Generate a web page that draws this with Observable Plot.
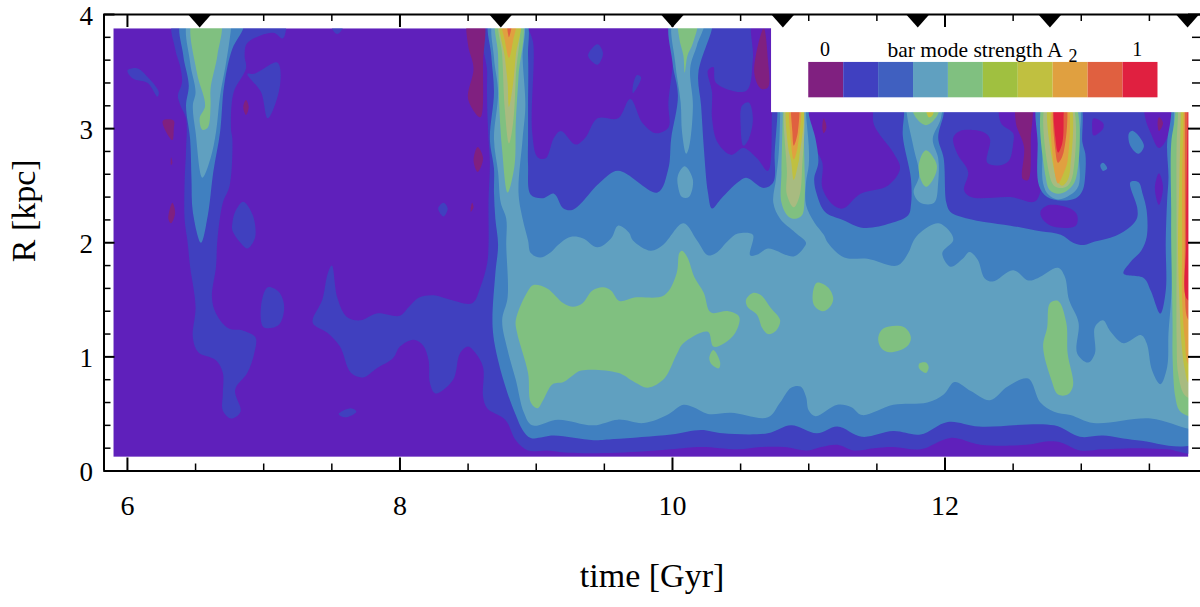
<!DOCTYPE html>
<html>
<head>
<meta charset="utf-8">
<style>html,body{margin:0;padding:0;background:#fff}svg{display:block}</style>
<script src="https://cdn.jsdelivr.net/npm/d3@7"></script>
<script src="https://cdn.jsdelivr.net/npm/@observablehq/plot@0.6"></script>
</head>
<body>
<div id="chart"></div>
<script>
// Contour regions of bar mode strength as [time Gyr, R kpc] outlines.
const blue1Regions = [
 [[8.65,3.95],[8.64,3.49],[8.64,3.20],[8.65,2.91],[8.66,2.70],[8.65,2.37],[8.65,1.98],[8.64,1.82],[8.59,1.61],[8.53,1.47],[8.37,1.50],[8.25,1.54],[8.14,1.52],[8.06,1.43],[8.00,1.36],[7.83,1.38],[7.71,1.32],[7.61,1.35],[7.54,1.52],[7.50,1.80],[7.47,1.73],[7.43,1.50],[7.36,1.30],[7.47,1.21],[7.56,1.09],[7.64,0.86],[7.73,0.82],[7.83,0.90],[7.95,0.99],[8.00,1.09],[8.10,1.15],[8.17,1.10],[8.21,0.97],[8.22,0.77],[8.26,0.68],[8.39,0.80],[8.44,1.03],[8.50,1.09],[8.55,1.04],[8.61,0.91],[8.61,0.65],[8.64,0.55],[8.75,0.47],[8.79,0.42],[8.85,0.27],[8.94,0.18],[9.08,0.18],[9.23,0.16],[9.60,0.16],[9.99,0.19],[10.21,0.21],[10.48,0.19],[10.65,0.21],[10.82,0.21],[10.99,0.18],[11.09,0.21],[11.21,0.23],[11.33,0.18],[11.48,0.20],[11.62,0.21],[11.82,0.19],[12.04,0.29],[12.26,0.23],[12.60,0.23],[12.76,0.26],[12.85,0.25],[12.99,0.18],[13.16,0.19],[13.44,0.20],[13.63,0.19],[13.88,0.18],[13.88,3.95]],
 [[6.34,3.95],[6.35,3.70],[6.39,3.53],[6.40,3.40],[6.37,3.29],[6.39,3.20],[6.43,3.09],[6.43,2.81],[6.42,2.55],[6.42,2.20],[6.44,2.02],[6.46,1.79],[6.50,1.44],[6.48,1.17],[6.52,1.04],[6.65,0.97],[6.70,0.86],[6.70,0.68],[6.70,0.53],[6.76,0.46],[6.83,0.52],[6.79,0.71],[6.88,0.86],[6.93,1.03],[6.94,1.17],[6.85,1.23],[6.74,1.25],[6.65,1.38],[6.62,1.52],[6.65,1.79],[6.66,2.02],[6.70,2.35],[6.75,2.50],[6.77,2.91],[6.76,3.00],[6.78,3.32],[6.87,3.53],[6.86,3.64],[6.88,3.75],[7.07,3.84],[7.14,3.79],[7.15,3.95]],
 [[6.88,3.48],[6.93,3.48],[7.10,3.58],[7.12,3.38],[7.03,3.09],[6.98,3.32]],
 [[6.85,2.36],[6.92,2.24],[6.94,2.07],[6.92,2.00],[6.88,1.95],[6.83,2.00],[6.77,2.11],[6.77,2.17],[6.79,2.27]],
 [[6.00,3.51],[6.07,3.53],[6.15,3.45],[6.23,3.32],[6.22,3.28],[6.15,3.40],[6.04,3.44]],
 [[7.50,3.95],[7.58,3.95],[7.58,3.88],[7.54,3.83],[7.50,3.88]],
 [[6.98,1.44],[7.03,1.61],[7.11,1.57],[7.15,1.44],[7.11,1.28],[7.00,1.26]],
 [[7.55,0.50],[7.64,0.55],[7.68,0.52],[7.60,0.47]],
 [[8.28,2.30],[8.32,2.35],[8.35,2.30],[8.32,2.23]]
];
const violetHoles = [
 [[8.95,3.95],[8.98,3.73],[8.97,2.97],[9.01,2.75],[9.07,2.74],[9.13,2.92],[9.18,2.98],[9.29,2.86],[9.36,2.92],[9.45,3.09],[9.60,3.09],[9.69,3.26],[9.78,3.05],[9.88,2.96],[9.97,3.01],[9.97,3.20],[9.95,3.95]],
 [[10.59,3.95],[10.59,3.61],[10.54,3.33],[10.32,3.40],[10.30,3.54],[10.26,3.51],[10.29,3.32],[10.29,3.09],[10.33,2.88],[10.43,2.77],[10.52,2.83],[10.62,2.74],[10.70,2.63],[10.73,3.14],[10.73,3.95]],
 [[11.03,3.25],[11.45,3.25],[11.48,3.03],[11.62,2.79],[11.67,2.65],[11.58,2.50],[11.38,2.43],[11.25,2.30],[11.18,2.33],[11.10,2.48],[11.10,2.70],[11.03,2.88]],
 [[12.06,2.92],[12.11,2.98],[12.28,2.97],[12.33,2.91],[12.31,2.70],[12.41,2.68],[12.47,2.72],[12.50,2.87],[12.50,2.96],[12.41,3.05],[12.41,3.22],[12.65,3.22],[12.67,2.37],[12.48,2.40],[12.19,2.40],[12.14,2.46],[12.17,2.62],[12.09,2.78]],
 [[13.09,3.09],[13.16,3.05],[13.16,3.00],[13.09,2.94],[13.08,3.01]],
 [[12.70,2.27],[12.76,2.33],[12.92,2.30],[12.97,2.24],[12.96,2.15],[12.80,2.14],[12.72,2.20]],
 [[13.47,3.25],[13.65,3.25],[13.63,2.92],[13.57,2.83],[13.51,2.96],[13.47,3.09]],
 [[13.57,2.61],[13.60,2.49],[13.57,2.33],[13.54,2.48]]
];
const blue1Islands = [
 [[9.38,3.64],[9.45,3.74],[9.49,3.66],[9.45,3.56]],
 [[9.71,3.38],[9.74,3.47],[9.77,3.45],[9.71,3.31]],
 [[10.51,3.20],[10.56,3.23],[10.59,3.09],[10.56,2.91],[10.52,2.85],[10.50,3.03]]
];
const blue2Regions = [
 [[8.66,3.95],[8.67,3.64],[8.69,3.32],[8.66,2.91],[8.69,2.65],[8.69,2.44],[8.70,2.21],[8.72,1.98],[8.70,1.73],[8.68,1.26],[8.72,0.97],[8.79,0.68],[8.85,0.49],[8.90,0.36],[8.96,0.29],[9.13,0.31],[9.42,0.27],[9.57,0.28],[9.99,0.32],[10.21,0.36],[10.37,0.33],[10.70,0.33],[10.87,0.40],[11.06,0.33],[11.21,0.39],[11.39,0.30],[11.62,0.35],[11.82,0.32],[12.02,0.43],[12.25,0.39],[12.80,0.40],[12.99,0.30],[13.16,0.31],[13.41,0.27],[13.88,0.28],[13.88,3.95],[13.66,3.95],[13.66,3.13],[13.63,2.87],[13.64,2.57],[13.63,2.37],[13.62,2.00],[13.62,1.58],[13.58,1.38],[13.51,1.58],[13.46,1.69],[13.31,1.73],[13.36,1.83],[13.44,1.93],[13.48,2.05],[13.48,2.28],[13.45,2.43],[13.42,2.53],[13.36,2.53],[13.41,2.31],[13.41,2.22],[13.36,2.14],[13.25,2.06],[13.10,2.01],[13.02,1.98],[12.94,2.00],[12.85,2.07],[12.70,2.10],[12.48,2.15],[12.30,2.18],[12.17,2.21],[12.04,2.27],[12.01,2.35],[11.99,2.74],[11.95,2.92],[11.99,3.13],[11.99,3.25],[11.70,3.25],[11.70,3.13],[11.69,2.94],[11.75,2.56],[11.75,2.33],[11.73,2.24],[11.60,2.17],[11.40,2.13],[11.25,2.20],[11.12,2.27],[11.06,2.42],[11.04,2.56],[11.07,2.70],[11.05,2.91],[11.00,3.13],[11.00,3.25],[10.77,3.25],[10.77,3.13],[10.75,2.79],[10.74,2.53],[10.67,2.48],[10.54,2.57],[10.48,2.53],[10.36,2.39],[10.29,2.30],[10.26,2.44],[10.23,2.83],[10.21,3.20],[10.19,3.49],[10.29,3.88],[10.29,3.95],[9.99,3.95],[10.00,3.58],[10.04,3.29],[9.99,2.91],[9.97,2.65],[9.89,2.44],[9.60,2.63],[9.47,2.53],[9.27,2.29],[9.20,2.30],[9.13,2.43],[9.05,2.39],[8.96,2.42],[8.94,2.68],[8.94,2.91],[8.94,3.20],[8.94,3.64],[8.92,3.95]],
 [[6.40,3.95],[6.41,3.64],[6.45,3.38],[6.43,3.20],[6.46,2.91],[6.47,2.56],[6.48,2.27],[6.54,2.00],[6.59,2.24],[6.63,2.62],[6.68,2.97],[6.71,3.38],[6.77,3.70],[6.85,3.88],[6.85,3.95]],
 [[12.69,3.25],[12.68,2.87],[12.69,2.50],[12.75,2.40],[12.85,2.37],[12.96,2.39],[13.01,2.46],[13.03,2.61],[13.03,2.78],[13.01,2.87],[12.98,3.25]],
 [[13.35,2.96],[13.38,2.98],[13.46,2.85],[13.42,2.78],[13.36,2.85]],
 [[13.14,2.68],[13.16,2.70],[13.19,2.65],[13.16,2.63]]
];
const tealRegions = [
 [[8.69,3.95],[8.69,3.62],[8.72,3.32],[8.69,2.91],[8.72,2.62],[8.74,2.35],[8.78,2.21],[8.78,1.98],[8.79,1.52],[8.75,1.32],[8.79,1.06],[8.85,0.80],[8.91,0.51],[8.97,0.40],[9.16,0.45],[9.42,0.40],[9.60,0.45],[9.79,0.42],[9.96,0.49],[10.08,0.58],[10.15,0.56],[10.26,0.50],[10.43,0.51],[10.70,0.47],[10.79,0.60],[10.87,0.73],[10.94,0.74],[10.98,0.65],[11.00,0.53],[11.05,0.48],[11.21,0.58],[11.31,0.56],[11.39,0.49],[11.62,0.58],[11.87,0.60],[11.99,0.67],[12.07,0.78],[12.19,0.70],[12.33,0.62],[12.46,0.74],[12.61,0.81],[12.70,0.60],[12.80,0.52],[12.92,0.49],[13.09,0.42],[13.51,0.46],[13.79,0.37],[13.88,0.36],[13.88,3.95],[13.69,3.95],[13.68,3.13],[13.67,2.02],[13.66,1.52],[13.64,1.21],[13.63,0.91],[13.58,0.76],[13.52,0.88],[13.48,1.12],[13.44,1.19],[13.31,1.12],[13.21,1.23],[13.16,1.32],[13.10,1.26],[13.10,1.03],[13.05,0.95],[12.97,1.03],[12.98,1.30],[12.91,1.50],[12.88,1.70],[12.83,1.78],[12.68,1.69],[12.61,1.67],[12.50,1.76],[12.35,1.66],[12.29,1.69],[12.24,1.85],[12.18,1.92],[12.13,1.86],[12.04,1.79],[11.98,1.91],[12.06,2.02],[12.04,2.09],[11.95,2.17],[11.82,2.09],[11.77,2.02],[11.73,1.91],[11.65,1.80],[11.43,1.86],[11.26,1.87],[11.14,2.00],[11.11,2.07],[11.04,2.18],[10.98,2.33],[10.98,2.53],[11.00,2.68],[11.00,2.85],[10.98,3.13],[10.98,3.25],[10.79,3.25],[10.79,3.13],[10.78,2.79],[10.76,2.56],[10.74,2.35],[10.79,2.21],[10.90,2.09],[10.98,2.00],[10.96,1.95],[10.89,1.88],[10.70,1.95],[10.63,1.90],[10.57,1.89],[10.59,2.07],[10.48,2.08],[10.41,2.02],[10.32,1.91],[10.26,1.89],[10.18,2.02],[10.08,2.17],[9.93,1.98],[9.84,1.93],[9.71,2.02],[9.68,2.09],[9.60,2.15],[9.55,2.04],[9.45,1.96],[9.34,2.04],[9.25,2.05],[9.16,1.98],[9.11,1.92],[9.03,1.87],[8.96,1.91],[8.94,2.02],[8.90,2.21],[8.87,2.44],[8.90,2.91],[8.92,3.20],[8.90,3.62],[8.90,3.95]],
 [[6.45,3.95],[6.46,3.58],[6.50,3.32],[6.48,3.20],[6.50,2.97],[6.55,2.57],[6.61,2.74],[6.65,2.97],[6.68,3.29],[6.72,3.55],[6.76,3.88],[6.76,3.95]],
 [[10.01,3.95],[10.02,3.58],[10.06,3.23],[10.07,2.97],[10.10,2.78],[10.12,2.83],[10.15,3.20],[10.13,3.53],[10.18,3.73],[10.23,3.95]],
 [[10.09,2.67],[10.15,2.55],[10.12,2.40],[10.07,2.40],[10.04,2.50],[10.04,2.59]],
 [[11.72,3.25],[11.72,3.13],[11.77,2.83],[11.81,2.59],[11.77,2.44],[11.82,2.35],[11.92,2.35],[11.95,2.53],[11.95,2.74],[11.91,2.91],[11.97,3.09],[11.97,3.25]],
 [[12.72,3.25],[12.72,2.90],[12.72,2.52],[12.76,2.42],[12.83,2.38],[12.92,2.42],[12.98,2.50],[12.98,2.81],[12.97,3.25]]
];
const greenRegions = [
 [[8.85,1.32],[8.94,1.58],[8.98,1.63],[9.08,1.60],[9.20,1.47],[9.27,1.44],[9.34,1.47],[9.41,1.58],[9.49,1.61],[9.55,1.58],[9.61,1.49],[9.72,1.52],[9.94,1.54],[10.03,1.73],[10.05,1.91],[10.07,1.93],[10.11,1.87],[10.16,1.70],[10.23,1.56],[10.28,1.39],[10.41,1.40],[10.49,1.35],[10.46,1.21],[10.38,1.12],[10.30,1.09],[10.26,1.22],[10.08,1.12],[10.03,1.02],[9.94,0.81],[9.82,0.73],[9.72,0.78],[9.60,0.86],[9.33,0.88],[9.27,0.84],[9.20,0.78],[9.12,0.76],[9.05,0.62],[9.01,0.55],[8.96,0.60],[8.94,0.86],[8.86,1.21]],
 [[10.30,1.06],[10.35,0.95],[10.34,0.90],[10.29,0.93],[10.27,0.99]],
 [[10.54,1.50],[10.59,1.56],[10.65,1.54],[10.72,1.43],[10.79,1.32],[10.76,1.23],[10.70,1.20],[10.66,1.25],[10.62,1.37],[10.55,1.44]],
 [[11.06,1.65],[11.14,1.61],[11.18,1.51],[11.15,1.43],[11.10,1.40],[11.04,1.45],[11.03,1.56]],
 [[11.51,1.17],[11.55,1.25],[11.70,1.26],[11.75,1.17],[11.72,1.09],[11.59,1.04],[11.53,1.08]],
 [[11.81,0.94],[11.86,0.95],[11.88,0.91],[11.86,0.86],[11.81,0.90]],
 [[12.77,1.47],[12.83,1.49],[12.89,1.30],[12.90,1.03],[12.94,0.75],[12.90,0.67],[12.83,0.67],[12.78,0.80],[12.72,1.09],[12.75,1.26]],
 [[6.48,3.95],[6.51,3.49],[6.57,3.20],[6.53,3.09],[6.55,2.99],[6.59,3.01],[6.61,3.20],[6.61,3.35],[6.66,3.64],[6.68,3.95]],
 [[10.05,3.95],[10.05,3.79],[10.08,3.64],[10.09,3.49],[10.11,3.64],[10.15,3.75],[10.18,3.95]],
 [[11.77,3.25],[11.95,3.25],[11.95,3.13],[11.86,3.03],[11.77,3.13]],
 [[11.86,2.81],[11.94,2.68],[11.91,2.55],[11.86,2.49],[11.82,2.56],[11.81,2.70]],
 [[8.71,3.95],[8.72,3.65],[8.73,3.16],[8.75,2.81],[8.79,2.44],[8.84,2.67],[8.85,3.06],[8.87,3.46],[8.89,3.95]],
 [[10.81,3.25],[10.81,3.13],[10.80,2.62],[10.80,2.35],[10.85,2.23],[10.90,2.21],[10.95,2.24],[10.97,2.39],[10.97,2.62],[10.96,3.13],[10.96,3.25]],
 [[12.73,3.25],[12.74,2.57],[12.77,2.46],[12.83,2.43],[12.90,2.46],[12.96,2.56],[12.94,3.25]],
 [[13.69,3.95],[13.69,3.13],[13.66,2.87],[13.66,2.29],[13.66,2.02],[13.67,1.30],[13.67,1.00],[13.69,0.65],[13.72,0.53],[13.79,0.48],[13.88,0.46],[13.88,3.95]]
];
const tanRegions = [
 [[8.73,3.95],[8.75,3.65],[8.77,3.16],[8.80,2.87],[8.83,3.05],[8.85,3.46],[8.86,3.95]],
 [[10.84,3.25],[10.84,2.62],[10.84,2.42],[10.89,2.31],[10.93,2.40],[10.95,2.62],[10.94,3.25]],
 [[12.75,3.25],[12.76,2.63],[12.80,2.50],[12.85,2.48],[12.90,2.50],[12.94,2.61],[12.92,3.25]],
 [[13.71,3.95],[13.71,3.13],[13.70,2.87],[13.70,2.02],[13.70,1.15],[13.71,0.86],[13.75,0.68],[13.79,0.64],[13.88,0.62],[13.88,3.95]]
];
const yellowRegions = [
 [[8.74,3.95],[8.77,3.62],[8.79,3.40],[8.80,3.19],[8.83,3.39],[8.85,3.64],[8.88,3.95]],
 [[10.85,3.25],[10.85,2.83],[10.87,2.72],[10.89,2.55],[10.92,2.68],[10.93,2.74],[10.95,3.25]],
 [[12.77,3.25],[12.79,2.70],[12.83,2.53],[12.86,2.50],[12.90,2.55],[12.92,2.66],[12.91,3.25]],
 [[11.86,3.25],[11.92,3.25],[11.91,3.12],[11.88,3.10]],
 [[13.73,3.95],[13.73,3.13],[13.72,2.57],[13.71,2.00],[13.72,1.50],[13.74,1.06],[13.76,0.89],[13.79,0.77],[13.88,0.75],[13.88,3.95]]
];
const orangeRegions = [
 [[8.75,3.95],[8.77,3.77],[8.80,3.62],[8.83,3.77],[8.85,3.95]],
 [[10.87,3.25],[10.87,2.88],[10.89,2.73],[10.92,2.85],[10.93,3.25]],
 [[12.80,3.25],[12.80,2.66],[12.83,2.52],[12.87,2.61],[12.90,2.72],[12.89,3.25]],
 [[13.74,3.95],[13.75,3.13],[13.74,2.57],[13.74,2.00],[13.74,1.50],[13.76,1.15],[13.79,0.93],[13.88,0.91],[13.88,3.95]]
];
const vermilionRegions = [
 [[8.79,3.95],[8.80,3.80],[8.82,3.95]],
 [[10.88,3.25],[10.88,2.97],[10.89,2.85],[10.92,2.97],[10.92,3.25]],
 [[12.81,3.25],[12.81,2.81],[12.83,2.70],[12.87,2.79],[12.88,3.25]],
 [[13.76,3.95],[13.76,3.13],[13.76,2.00],[13.76,1.58],[13.79,1.32],[13.88,1.30],[13.88,3.95]]
];
const redRegions = [
 [[12.81,3.25],[12.81,2.92],[12.83,2.79],[12.86,2.87],[12.87,3.07],[12.86,3.25]],
 [[13.78,3.95],[13.78,3.13],[13.77,2.02],[13.78,1.50],[13.88,1.50],[13.88,3.95]]
];
const magentaRegions = [
 [[6.26,3.07],[6.34,3.07],[6.34,3.00],[6.33,2.90],[6.28,2.98]],
 [[6.32,2.75],[6.33,2.70],[6.32,2.68]],
 [[6.33,2.35],[6.35,2.26],[6.32,2.17],[6.30,2.21]],
 [[6.87,3.25],[6.89,3.19],[6.87,3.12],[6.85,3.19]],
 [[8.50,3.95],[8.61,3.95],[8.61,3.58],[8.59,3.10],[8.50,3.26],[8.54,3.53],[8.50,3.73]],
 [[8.57,2.84],[8.61,2.74],[8.57,2.62],[8.54,2.72]],
 [[8.53,2.35],[8.54,2.31],[8.52,2.27],[8.52,2.31]],
 [[10.67,3.88],[10.70,3.61],[10.70,3.36],[10.65,3.35],[10.60,3.49]],
 [[11.11,3.09],[11.13,3.01],[11.11,2.96],[11.10,3.01]],
 [[12.53,3.22],[12.63,3.22],[12.63,2.92],[12.61,2.55],[12.57,2.56],[12.58,2.84],[12.52,3.05]],
 [[13.57,3.10],[13.60,3.05],[13.57,2.98],[13.56,3.05]]
];
const barMarkers = [6.53, 8.74, 10.0, 10.81, 11.80, 12.77, 13.78];
const legendColors = ["#802080","#4040c0","#4060c0","#60a0c0","#80c080","#a0c040","#c0c040","#e0a040","#e06040","#e02040"];
const xMajor = [6, 8, 10, 12];
const xMinor = [6.5, 7, 7.5, 8.5, 9, 9.5, 10.5, 11, 11.5, 12.5, 13, 13.5];
const yMajor = [0, 1, 2, 3, 4];
const yMinor = [0.2,0.4,0.6,0.8,1.2,1.4,1.6,1.8,2.2,2.4,2.6,2.8,3.2,3.4,3.6,3.8];

const layers = [
 [blue1Regions,"#4040bf"],[violetHoles,"#5f20bb"],[blue1Islands,"#4040bf"],
 [blue2Regions,"#4080c0"],[tealRegions,"#60a0c0"],[greenRegions,"#80c080"],
 [tanRegions,"#a8bb80"],[yellowRegions,"#c0c040"],[orangeRegions,"#e0a040"],
 [vermilionRegions,"#e06040"],[redRegions,"#e02040"],[magentaRegions,"#802080"]
];
const rows = polys => polys.flatMap((p,id) => p.map(([t,R]) => ({t,R,id})));
const contourMarks = layers.map(([polys,color]) =>
  Plot.line(rows(polys), {x:"t", y:"R", z:"id", fill:color, stroke:"none", curve:"catmull-rom-closed", clip:true}));

const tMin = 5.828, tMax = 13.875, plotH = 456.5, plotW = 1096.5;
const dataBox = {t1:5.9, t2:13.79, R1:0.12, R2:3.875};
const rectOf = (a) => Plot.rect(a, {x1:"a",x2:"b",y1:"c",y2:"d",fill:"fill"});
const downTriangle = {draw(c){c.moveTo(-11.5,0);c.lineTo(11.5,0);c.lineTo(0,13);c.closePath();}};
const legendX0 = 11.0, legendStep = 0.2563;
const serif = "'Liberation Serif', serif";

const plot = Plot.plot({
  width:1200, height:607,
  marginLeft:103.5, marginRight:0, marginTop:14, marginBottom:136.5,
  style:{fontFamily:serif, background:"#fff", color:"#000"},
  x:{domain:[tMin,tMax]}, y:{domain:[0,4]},
  marks:[
    rectOf([{a:dataBox.t1,b:dataBox.t2,c:dataBox.R1,d:dataBox.R2,fill:"#5f20bb"}]),
    ...contourMarks,
    rectOf([
      {a:tMin,b:dataBox.t1,c:0,d:4,fill:"#fff"},
      {a:dataBox.t2,b:tMax,c:0,d:4,fill:"#fff"},
      {a:tMin,b:tMax,c:0,d:dataBox.R1,fill:"#fff"},
      {a:tMin,b:tMax,c:dataBox.R2,d:4,fill:"#fff"},
      {a:10.727,b:tMax,c:3.14,d:4,fill:"#fff"}
    ]),
    Plot.rect(legendColors,{x1:(d,i)=>legendX0+i*legendStep,x2:(d,i)=>legendX0+(i+1)*legendStep,y1:3.27,y2:3.58,fill:d=>d}),
    Plot.text(["0"],{x:11.12,y:3.69,text:d=>d,fontSize:20}),
    Plot.text(["bar mode strength A"],{x:12.22,y:3.69,text:d=>d,fontSize:21.5}),
    Plot.text(["2"],{x:12.94,y:3.63,text:d=>d,fontSize:18}),
    Plot.text(["1"],{x:13.41,y:3.69,text:d=>d,fontSize:20}),
    Plot.tickX(xMajor,{x:d=>d,insetTop:plotH-13,strokeWidth:2}),
    Plot.tickX(xMinor,{x:d=>d,insetTop:plotH-7,strokeWidth:1.5}),
    Plot.tickX(xMajor,{x:d=>d,insetBottom:plotH-13,strokeWidth:2}),
    Plot.tickX(xMinor,{x:d=>d,insetBottom:plotH-7,strokeWidth:1.5}),
    Plot.tickY(yMajor,{y:d=>d,insetRight:plotW-11,strokeWidth:2}),
    Plot.tickY(yMinor,{y:d=>d,insetRight:plotW-7,strokeWidth:1.5}),
    Plot.tickY(yMajor,{y:d=>d,insetLeft:plotW-12,strokeWidth:2}),
    Plot.tickY(yMinor,{y:d=>d,insetLeft:plotW-8,strokeWidth:1.5}),
    Plot.ruleY([0,4],{strokeWidth:2}),
    Plot.ruleX([tMin],{strokeWidth:2}),
    Plot.dot(barMarkers,{x:d=>d,y:4,symbol:downTriangle,r:5,fill:"#000",stroke:"none"}),
    Plot.axisX(xMajor,{tickSize:0,tickPadding:24,fontSize:28,label:null,tickFormat:String}),
    Plot.axisY(yMajor,{tickSize:0,tickPadding:11,fontSize:27,label:null,tickFormat:String,dy:1.5}),
    Plot.text(["time [Gyr]"],{x:9.85,frameAnchor:"bottom",dy:116,text:d=>d,fontSize:34}),
    Plot.text(["R [kpc]"],{y:2.28,frameAnchor:"left",dx:-80,rotate:-90,textAnchor:"middle",text:d=>d,fontSize:34})
  ]
});
document.getElementById("chart").append(plot);
</script>
</body>
</html>
